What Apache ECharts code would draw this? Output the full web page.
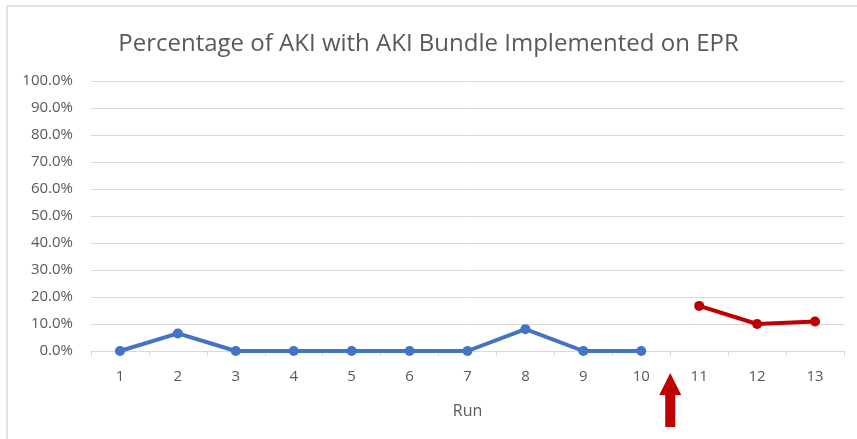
<!DOCTYPE html>
<html>
<head>
<meta charset="utf-8">
<script src="https://cdn.jsdelivr.net/npm/echarts@6/dist/echarts.min.js"></script>
<style>
    html, body { margin: 0; padding: 0; background: #fff; }
    #container { width: 857px; height: 439px; }
</style>
</head>
<body>
<div id="container"></div>
<script type="text/javascript">
    var runs = ['1', '2', '3', '4', '5', '6', '7', '8', '9', '10', '11', '12', '13'];
    var beforeBundle = [0, 6.5, 0, 0, 0, 0, 0, 8.1, 0, 0, null, null, null];
    var afterBundle = [null, null, null, null, null, null, null, null, null, null, 16.7, 10.0, 10.9];

    var myChart = echarts.init(document.getElementById('container'));
    var font = 'Open Sans';

    var option = {
        animation: false,
        title: {
            text: 'Percentage of AKI with AKI Bundle Implemented on EPR',
            left: 'center',
            top: 27,
            textStyle: { fontFamily: font, fontSize: 24, fontWeight: 'normal', color: '#595959' }
        },
        grid: { left: 91, right: 13, top: 81, bottom: 88 },
        xAxis: {
            type: 'category',
            data: runs,
            name: 'Run',
            nameLocation: 'middle',
            nameGap: 52,
            nameTextStyle: { fontFamily: font, fontSize: 16, color: '#595959' },
            axisLine: { lineStyle: { color: '#d9d9d9' } },
            axisTick: { show: true, length: 5, lineStyle: { color: '#d9d9d9' } },
            axisLabel: { fontFamily: font, fontSize: 15, color: '#595959', margin: 18 }
        },
        yAxis: {
            type: 'value',
            min: 0,
            max: 100,
            interval: 10,
            axisLine: { show: false },
            axisTick: { show: false },
            splitLine: { lineStyle: { color: '#d9d9d9' } },
            axisLabel: {
                fontFamily: font, fontSize: 15, color: '#595959', margin: 18,
                formatter: function (v) { return v.toFixed(1) + '%'; }
            }
        },
        series: [
            {
                name: 'Before',
                type: 'line',
                data: beforeBundle,
                symbol: 'circle',
                symbolSize: 10,
                color: '#4472C4',
                lineStyle: { width: 4 }
            },
            {
                name: 'After',
                type: 'line',
                data: afterBundle,
                symbol: 'circle',
                symbolSize: 10,
                color: '#C00000',
                lineStyle: { width: 4 }
            }
        ]
    };
    myChart.setOption(option, true);

    // red arrow under the gap between run 10 and 11
    var p10 = myChart.convertToPixel({ xAxisIndex: 0 }, '10');
    var p11 = myChart.convertToPixel({ xAxisIndex: 0 }, '11');
    var ax = (p10 + p11) / 2;
    var ay = myChart.convertToPixel({ yAxisIndex: 0 }, 0);
    myChart.setOption({
        graphic: [
            {
                type: 'rect',
                shape: { x: 7, y: 6, width: 900, height: 500 },
                style: { fill: null, stroke: '#e3e3e3', lineWidth: 2 },
                silent: true
            },
            {
                type: 'polygon',
                shape: {
                    points: [
                        [ax, ay + 22], [ax + 11, ay + 44], [ax + 5, ay + 44], [ax + 5, ay + 76],
                        [ax - 5, ay + 76], [ax - 5, ay + 44], [ax - 11, ay + 44]
                    ]
                },
                style: { fill: '#C00000' }
            }
        ]
    });
</script>
</body>
</html>
